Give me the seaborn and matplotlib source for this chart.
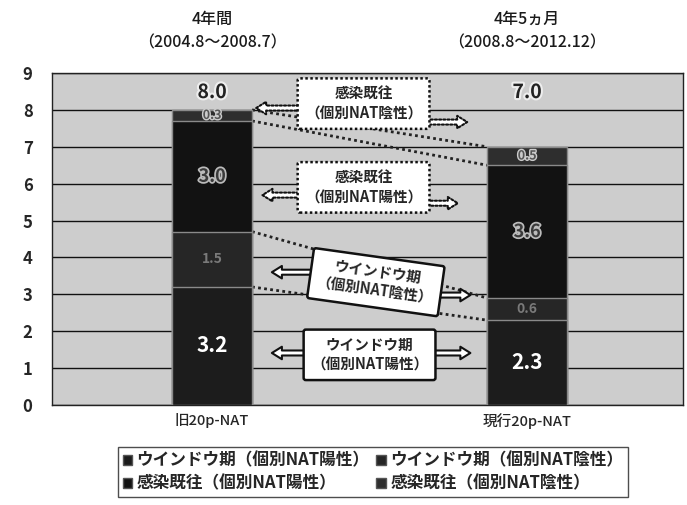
import matplotlib
matplotlib.use("Agg")
import matplotlib.pyplot as plt
import matplotlib.patheffects as pe
from matplotlib.patches import Patch
import seaborn as sns
import pandas as pd
import numpy as np

# Data: annual rate per category, stacked bottom -> top
categories = ["旧20p-NAT", "現行20p-NAT"]
periods = ["4年間\n（2004.8～2008.7）", "4年5ヵ月\n（2008.8～2012.12）"]
series_names = ["ウインドウ期（個別NAT陽性）", "ウインドウ期（個別NAT陰性）",
                "感染既往（個別NAT陽性）", "感染既往（個別NAT陰性）"]
window_pos = [3.2, 2.3]
window_neg = [1.5, 0.6]
infect_pos = [3.0, 3.6]
infect_neg = [0.3, 0.5]
totals = [8.0, 7.0]

series_values = [window_pos, window_neg, infect_pos, infect_neg]
series_colors = ["#1c1c1c", "#262626", "#121212", "#2e2e2e"]

sns.set_theme(style="white")
plt.rcParams["font.family"] = ["Noto Sans CJK JP", "DejaVu Sans"]

fig = plt.figure(figsize=(6.87, 5.05), dpi=100)
ax = fig.add_axes([52 / 687, 100 / 505, 631 / 687, 332 / 505])
ax.set_facecolor("#cdcdcd")

# Stacked bars drawn as overlapping cumulative bars (tallest first)
cum = np.cumsum(np.array(series_values), axis=0)
for i in range(len(series_values) - 1, -1, -1):
    df = pd.DataFrame({"cat": categories, "val": cum[i]})
    sns.barplot(data=df, x="cat", y="val", color=series_colors[i],
                saturation=1, width=0.254, edgecolor="#8a8a8a", linewidth=1.0,
                ax=ax, zorder=3)

ax.set_xlim(-0.508, 1.495)
ax.set_ylim(0, 9)
ax.set_yticks(range(0, 10))
ax.yaxis.grid(True, color="#111111", lw=1.0, zorder=0)
ax.set_axisbelow(True)
ax.set_xlabel("")
ax.set_ylabel("")
for s in ax.spines.values():
    s.set_color("#222222")
    s.set_linewidth(1.0)
ax.tick_params(axis="y", labelsize=12, pad=14, length=0)
ax.tick_params(axis="x", labelsize=10.5, pad=6, length=0)
for lab in ax.get_yticklabels():
    lab.set_fontweight("bold")
for lab in ax.get_xticklabels():
    lab.set_fontweight("medium")

# Series (connector) lines between segment tops
half = 0.127
for i in range(len(series_values)):
    ax.plot([0 + half, 1 - half], [cum[i][0], cum[i][1]], ls=(0, (1, 1.2)),
            color="#222222", lw=2.0, zorder=2)

# Segment value labels
for j in range(2):
    ax.text(j, window_pos[j] / 2, f"{window_pos[j]:.1f}", ha="center", va="center",
            color="white", fontsize=15, fontweight="bold", zorder=5)
    ax.text(j, cum[0][j] + window_neg[j] / 2, f"{window_neg[j]:.1f}", ha="center",
            va="center", color="#7a7a7a", fontsize=10, fontweight="bold", zorder=5)
    ax.text(j, cum[1][j] + infect_pos[j] / 2, f"{infect_pos[j]:.1f}", ha="center",
            va="center", color="#3a3a3a", fontsize=13, fontweight="bold", zorder=5,
            path_effects=[pe.withStroke(linewidth=2.5, foreground="#bbbbbb")])
    ax.text(j, cum[2][j] + infect_neg[j] / 2, f"{infect_neg[j]:.1f}", ha="center",
            va="center", color="#555555", fontsize=9, fontweight="bold", zorder=5,
            path_effects=[pe.withStroke(linewidth=2, foreground="#cccccc")])
    ax.text(j, 8.47, f"{totals[j]:.1f}", ha="center", va="center",
            color="#222222", fontsize=14, fontweight="bold", zorder=5,
            path_effects=[pe.withStroke(linewidth=3, foreground="#eeeeee")])
    # period title above each bar
    ax.text(j, 1.065, periods[j], transform=ax.get_xaxis_transform(),
            ha="center", va="bottom", fontsize=11.5, linespacing=1.5,
            fontweight="medium", color="#1a1a1a")


# Callout boxes with block arrows pointing to both bars
def callout(text, x, y, yl, yr, xl, xr, dotted=True, rot=0, w=0.2):
    ls = (0, (1, 1)) if dotted else "-"
    ax.text(x, y, text, ha="center", va="center", fontsize=10.5, rotation=rot,
            fontweight="bold", multialignment="center", linespacing=1.3, zorder=7,
            bbox=dict(boxstyle="round,pad=0.5,rounding_size=0.15", fc="white",
                      ec="#111111", lw=1.8, ls=ls))
    style = "simple,head_length=0.6,head_width=0.75,tail_width=0.3"
    for tip_x, tip_y, sgn in ((xl, yl, -1), (xr, yr, 1)):
        ax.annotate("", xy=(tip_x, tip_y), xytext=(x + sgn * w, tip_y),
                    arrowprops=dict(arrowstyle=style, fc="white", ec="#111111",
                                    lw=1.5, ls=ls, shrinkA=0, shrinkB=0),
                    zorder=6)

callout("感染既往\n（個別NAT陰性）", 0.481, 8.17, 8.05, 7.67, 0.14, 0.81)
callout("感染既往\n（個別NAT陽性）", 0.481, 5.90, 5.69, 5.47, 0.16, 0.78)
callout("ウインドウ期\n（個別NAT陰性）", 0.52, 3.33, 3.60, 2.98, 0.19, 0.82,
        dotted=False, rot=-8)
callout("ウインドウ期\n（個別NAT陽性）", 0.50, 1.36, 1.41, 1.41, 0.19, 0.82,
        dotted=False)

handles = [Patch(facecolor=series_colors[0], edgecolor="#555555", label=series_names[0]),
           Patch(facecolor=series_colors[2], edgecolor="#555555", label=series_names[2]),
           Patch(facecolor=series_colors[1], edgecolor="#555555", label=series_names[1]),
           Patch(facecolor=series_colors[3], edgecolor="#555555", label=series_names[3])]
leg = fig.legend(handles=handles, ncol=2, loc="center",
                 bbox_to_anchor=(373 / 687, 1 - 472 / 505),
                 prop={"size": 12, "weight": "bold"},
                 frameon=True, fancybox=False, edgecolor="#222222",
                 handlelength=0.55, handleheight=0.55, handletextpad=0.3,
                 columnspacing=0.4, labelspacing=0.3, borderpad=0.25,
                 borderaxespad=0)
leg.get_frame().set_linewidth(1.0)

fig.savefig("out.png", dpi=100, facecolor="white")
